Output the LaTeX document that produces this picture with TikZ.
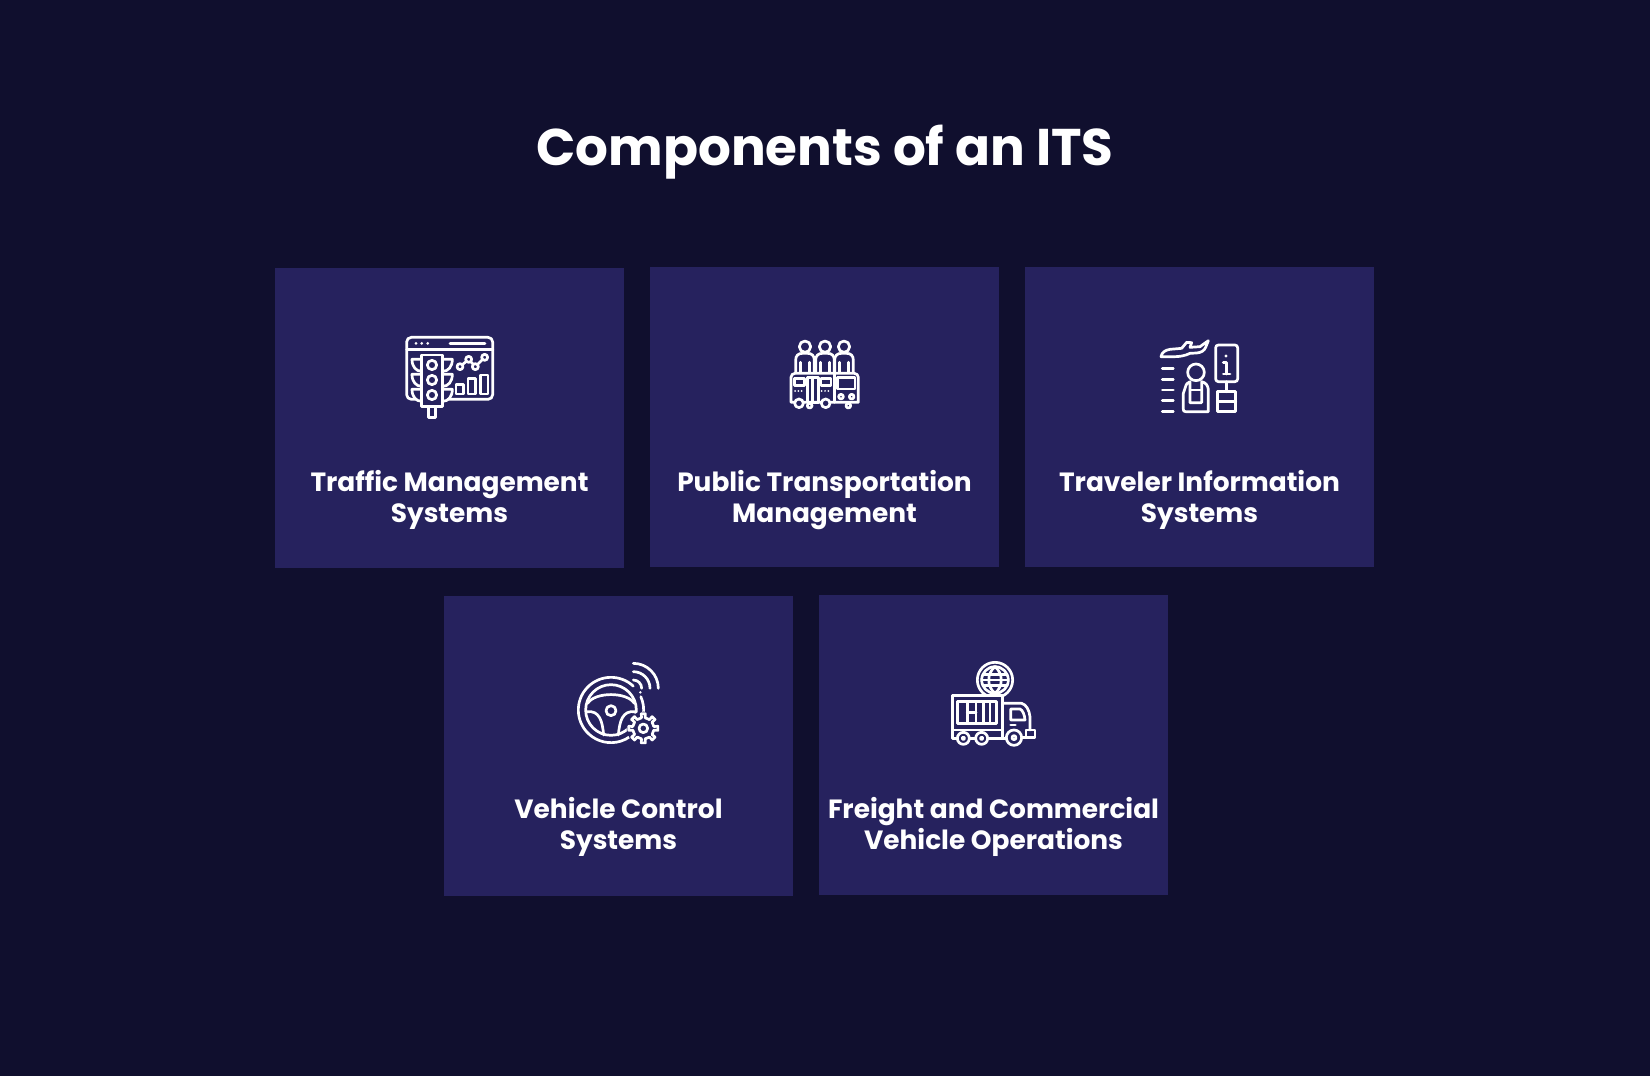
\documentclass[tikz,border=0pt]{standalone}
\usepackage{fontspec}
\setmainfont{Poppins}
\definecolor{bgc}{HTML}{100F2E}
\definecolor{cardc}{HTML}{26225E}
\tikzset{
 x=1pt,y=-1pt,
 cardbox/.style={fill=cardc,draw=none,minimum width=349.5pt,minimum height=300pt,inner sep=0pt,outer sep=0pt},
 cardtext/.style={text=white,align=center,font=\fontsize{26.4}{30.7}\selectfont\bfseries,inner sep=0pt},
 titletext/.style={text=white,font=\fontsize{51.6}{58}\selectfont\bfseries,inner sep=0pt},
 ic/.style={draw=white,line width=2.7pt,line join=round,line cap=round},
 icf/.style={ic,fill=cardc},
 icscope/.style={x=0.3333pt,y=-0.3333pt,shift={(#1)}}
}
\begin{document}
\begin{tikzpicture}
\useasboundingbox (0,0) rectangle (1650,1076);
\fill[bgc] (0,0) rectangle (1650,1076);
\node[titletext] (title) at (825,152) {Components of an ITS};
\node[cardbox] (c1) at (449.5,418) {};
\node[cardbox] (c2) at (824.5,417) {};
\node[cardbox] (c3) at (1199.5,417) {};
\node[cardbox] (c4) at (618.5,745.5) {};
\node[cardbox] (c5) at (993.5,744.5) {};
\node[cardtext] (t1) at (449.5,500) {Traffic Management\\Systems};
\node[cardtext] (t2) at (824.5,500) {Public Transportation\\Management};
\node[cardtext] (t3) at (1199.5,500) {Traveler Information\\Systems};
\node[cardtext] (t4) at (618.5,827) {Vehicle Control\\Systems};
\node[cardtext] (t5) at (993.5,827) {Freight and Commercial\\Vehicle Operations};
% icon 1
\begin{scope}[icscope={390pt,-320pt}]
\draw[ic,rounded corners=4.6pt] (50,52) rectangle (308,238);
\draw[ic] (50,88) -- (308,88);
\draw[ic] (180,70) -- (285,70);
\foreach \x in {78,95,113} \fill[white] (\x,70) circle[radius=4.5];
\foreach \y in {118,163,208} {
 \draw[icf] (95,\y) -- (66,\y) .. controls (66,\y+22) and (78,\y+36) .. (95,\y+36);
 \draw[icf] (158,\y) -- (187,\y) .. controls (187,\y+22) and (175,\y+36) .. (158,\y+36);
}
\draw[icf] (115,260) rectangle (137,292);
\draw[icf] (95,105) rectangle (158,260);
\foreach \y in {135,180,225} \draw[ic] (126,\y) circle[radius=14];
\draw[ic] (210,140) -- (236,118) -- (256,140) -- (284,112);
\foreach \p/\q in {210/140,236/118,256/140,284/112} \draw[icf] (\p,\q) circle[radius=9];
\draw[ic] (198,193) rectangle (220,222);
\draw[ic] (234,175) rectangle (256,222);
\draw[ic] (272,165) rectangle (294,222);
\end{scope}
% icon 2
\begin{scope}[icscope={775pt,-325pt}]
\foreach \c in {90,150,207} {
 \draw[ic] (\c,65) circle[radius=17];
 \draw[ic] (\c-28,140) -- (\c-28,105) .. controls (\c-28,92) and (\c-20,85) .. (\c-8,85) -- (\c+8,85) .. controls (\c+20,85) and (\c+28,92) .. (\c+28,105) -- (\c+28,140);
 \draw[ic] (\c-13,140) -- (\c-13,112);
 \draw[ic] (\c+13,140) -- (\c+13,112);
}
\draw[icf] (48,232) [rounded corners=4pt] -- (48,145) -- (250,145) [sharp corners] -- (250,232) -- cycle;
\draw[ic] (178,145) -- (178,232);
\draw[ic] (97,157) rectangle (130,232);
\draw[ic] (112,157) -- (112,232);
\draw[ic] (58,160) rectangle (88,182);
\draw[ic] (138,160) rectangle (168,182);
\draw[ic] (188,158) rectangle (240,192);
\foreach \x in {60,70,80,140,150,160} \fill[white] (\x,198) circle[radius=3];
\draw[icf] (72,235) circle[radius=13];
\draw[icf] (152,235) circle[radius=13];
\draw[icf] (104,242) circle[radius=7];
\draw[icf] (220,242) circle[radius=7];
\draw[ic] (198,215) circle[radius=7];
\draw[ic] (230,215) circle[radius=7];
\end{scope}
% icon 3
\begin{scope}[icscope={1145pt,-330pt}]
\draw[ic] (48,80) .. controls (50,68) and (60,60) .. (75,58) -- (110,55) -- (125,37) -- (140,38) -- (135,52) -- (165,50) -- (190,32) -- (182,52) .. controls (178,62) and (168,68) .. (155,69) -- (135,70) .. controls (120,78) and (100,80) .. (90,80) -- cycle;
\foreach \y in {115,148,180,212,245} \draw[ic] (52,\y) -- (85,\y);
\draw[ic] (153,127) circle[radius=25];
\draw[ic] (120,175) .. controls (124,160) and (128,158) .. (135,155) -- (135,218) -- (170,218) -- (170,155) .. controls (182,158) and (188,165) .. (190,178) -- (190,245) -- (122,245) .. controls (116,245) and (115,242) .. (115,238) -- (115,190) .. controls (115,182) and (117,180) .. (120,175) -- cycle;
\draw[ic] (135,180) -- (170,180);
\draw[ic,rounded corners=2.7pt] (212,45) rectangle (278,155);
\fill[white] (243,78) circle[radius=5];
\draw[ic] (235,97) -- (245,97) -- (245,132);
\draw[ic] (235,132) -- (255,132);
\draw[ic] (245,155) -- (245,185);
\draw[ic] (218,185) rectangle (272,245);
\draw[ic] (218,215) -- (272,215);
\end{scope}
% icon 4
\begin{scope}[icscope={565pt,-650pt}]
\draw[ic] ({138+98*cos(-47)},{180+98*sin(-47)}) arc[start angle=-47,end angle=-325,radius=98];
\draw[ic] ({138+98*cos(-24)},{180+98*sin(-24)}) arc[start angle=-24,end angle=8,radius=98];
\draw[ic] (138,180) circle[radius=76];
\draw[ic] (138,182) circle[radius=15];
\draw[ic] (68,160) .. controls (90,125) and (186,125) .. (208,160);
\draw[ic] (64,185) .. controls (105,180) and (112,215) .. (116,255);
\draw[ic] (212,185) .. controls (171,180) and (164,215) .. (160,255);
\fill[cardc] (235,235) circle[radius=50];
\draw[ic] (235,235) circle[radius=13];
\foreach \a in {0,45,...,315} {
 \draw[ic] ({235+32*cos(\a-10)},{235+32*sin(\a-10)}) -- ({235+44*cos(\a-8)},{235+44*sin(\a-8)}) -- ({235+44*cos(\a+8)},{235+44*sin(\a+8)}) -- ({235+32*cos(\a+10)},{235+32*sin(\a+10)}) -- ({235+32*cos(\a+35)},{235+32*sin(\a+35)});
}
\draw[ic] (205,40) arc[start angle=-90,end angle=0,radius=75];
\draw[ic] (205,65) arc[start angle=-90,end angle=0,radius=50];
\draw[ic] (205,90) arc[start angle=-90,end angle=0,radius=25];
\fill[white] (226,127) circle[radius=4];
\end{scope}
% icon 5
\begin{scope}[icscope={940pt,-655pt}]
\draw[ic] (165,75) circle[radius=53];
\draw[ic] (165,75) circle[radius=40];
\draw[ic] (165,35) .. controls (140,55) and (140,95) .. (165,115);
\draw[ic] (165,35) .. controls (190,55) and (190,95) .. (165,115);
\draw[ic] (131,58) -- (199,58);
\draw[ic] (125,75) -- (205,75);
\draw[ic] (131,92) -- (199,92);
\draw[icf] (37,122) rectangle (188,225);
\draw[ic] (52,140) rectangle (170,205);
\foreach \x in {82,108,130,150} \draw[ic] (\x,140) -- (\x,205);
\draw[ic] (82,172) -- (108,172);
\draw[ic] (188,145) -- (245,145) .. controls (258,148) and (268,165) .. (270,185) -- (270,225);
\draw[ic] (212,162) -- (240,162) .. controls (248,165) and (254,180) .. (255,195) -- (212,195) -- cycle;
\draw[ic] (212,210) -- (226,210);
\draw[ic] (37,225) -- (37,250) -- (50,250);
\draw[ic] (188,225) -- (188,250);
\draw[ic] (90,250) -- (105,250);
\draw[ic] (145,250) -- (200,250);
\draw[ic] (245,248) -- (285,248) -- (285,225) -- (258,225) -- (258,248);
\draw[icf] (70,250) circle[radius=18];
\draw[icf] (125,250) circle[radius=18];
\draw[icf] (222,248) circle[radius=23];
\draw[ic] (70,250) circle[radius=4];
\draw[ic] (125,250) circle[radius=4];
\draw[ic] (222,248) circle[radius=6];
\end{scope}
\end{tikzpicture}
\end{document}
